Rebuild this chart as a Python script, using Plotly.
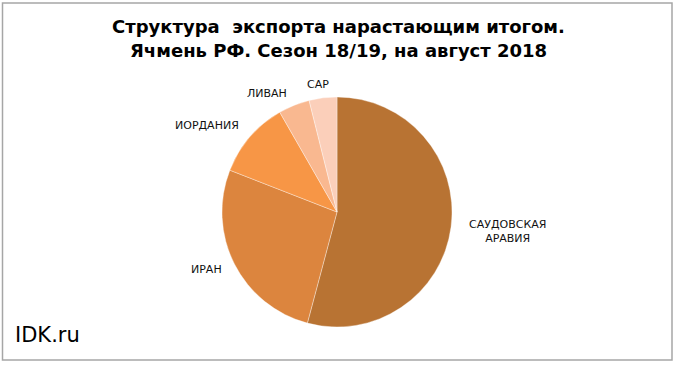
import plotly.graph_objects as go

countries = ["САУДОВСКАЯ<br>АРАВИЯ", "ИРАН", "ИОРДАНИЯ", "ЛИВАН", "САР"]
shares = [54.2, 26.8, 10.8, 4.4, 3.9]
colors = ["#B87333", "#DC853E", "#F79646", "#F9B890", "#FBCFBA"]

W, H = 680, 367
cx, cy, r = 337, 212, 115
FONT = "DejaVu Sans, Arial, Liberation Sans"

fig = go.Figure(go.Pie(
    labels=countries,
    values=shares,
    sort=False,
    direction="clockwise",
    rotation=0,
    textinfo="none",
    hoverinfo="label+percent",
    marker=dict(colors=colors, line=dict(color="rgba(255,255,255,0.6)", width=0.6)),
    domain=dict(x=[(cx - r) / W, (cx + r) / W], y=[(H - cy - r) / H, (H - cy + r) / H]),
    showlegend=False,
))

label_pos = [(507, 231), (207, 269), (207, 126), (267, 93), (318, 85)]
annotations = []
for name, (lx, ly) in zip(countries, label_pos):
    annotations.append(dict(
        x=lx / W, y=1 - ly / H, xref="paper", yref="paper",
        text=name, showarrow=False, xanchor="center", yanchor="middle",
        font=dict(family=FONT, size=11, color="#111111"),
    ))

title_lines = ["Структура\u00a0 экспорта нарастающим итогом.",
               "Ячмень РФ. Сезон 18/19, на август 2018"]
for line, ly in zip(title_lines, [27, 50]):
    annotations.append(dict(
        x=338 / W, y=1 - ly / H, xref="paper", yref="paper",
        text="<b>" + line + "</b>",
        showarrow=False, xanchor="center", yanchor="middle",
        font=dict(family=FONT, size=18, color="#000000"),
    ))
annotations.append(dict(
    x=13 / W, y=1 - 335 / H, xref="paper", yref="paper",
    text="IDK.ru", showarrow=False, xanchor="left", yanchor="middle",
    font=dict(family=FONT, size=21, color="#000000"),
))

fig.update_layout(
    width=W, height=H,
    margin=dict(l=0, r=0, t=0, b=0),
    paper_bgcolor="white",
    annotations=annotations,
    shapes=[dict(
        type="rect", xref="paper", yref="paper",
        x0=2.5 / W, x1=672 / W, y0=1 - 360 / H, y1=1 - 3 / H,
        line=dict(color="#A6A6A6", width=1.5),
    )],
)

fig.write_html(
    "out.html",
    config={"displayModeBar": False},
    post_script="document.body.style.margin='0';document.body.style.padding='0';",
)
